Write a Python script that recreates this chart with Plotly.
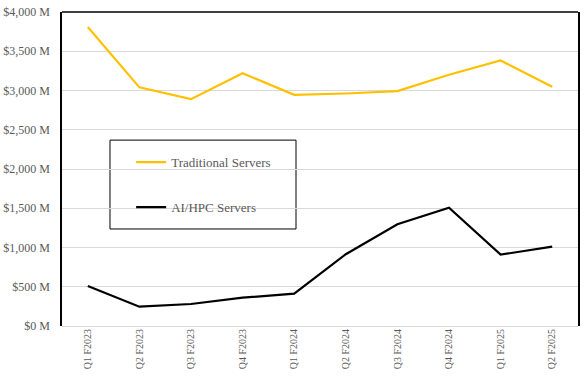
import plotly.graph_objects as go

quarters = ["Q1 F2023", "Q2 F2023", "Q3 F2023", "Q4 F2023", "Q1 F2024",
            "Q2 F2024", "Q3 F2024", "Q4 F2024", "Q1 F2025", "Q2 F2025"]
traditional = [3810, 3040, 2890, 3220, 2945, 2962, 2993, 3200, 3383, 3047]
ai_hpc = [510, 246, 280, 361, 412, 914, 1297, 1508, 909, 1011]
y_ticks = [0, 500, 1000, 1500, 2000, 2500, 3000, 3500, 4000]
y_tick_labels = ["$0 M", "$500 M", "$1,000 M", "$1,500 M", "$2,000 M",
                 "$2,500 M", "$3,000 M", "$3,500 M", "$4,000 M"]

FONT = "Liberation Serif"
GRAY = "#595959"

fig = go.Figure()
fig.add_trace(go.Scatter(x=quarters, y=traditional, mode="lines",
                         name="Traditional Servers", legendgroup="a",
                         line=dict(color="#FFC000", width=2.2)))
fig.add_trace(go.Scatter(x=quarters, y=ai_hpc, mode="lines",
                         name="AI/HPC Servers", legendgroup="b",
                         line=dict(color="#000000", width=2.2)))

# legend box
fig.add_shape(type="rect", xref="paper", yref="paper",
              x0=0.093, x1=0.4535, y0=0.309, y1=0.592,
              line=dict(color="black", width=1), fillcolor="white", layer="below")
# top border
fig.add_shape(type="line", xref="paper", yref="paper",
              x0=0, x1=1, y0=1, y1=1, line=dict(color="black", width=1.5))

fig.update_layout(
    width=586, height=380,
    margin=dict(l=62, r=8, t=12, b=54),
    paper_bgcolor="white", plot_bgcolor="white",
    font=dict(family=FONT, color=GRAY, size=12),
    showlegend=True,
    legend=dict(x=0.134, y=0.45, xanchor="left", yanchor="middle",
                bgcolor="rgba(0,0,0,0)", borderwidth=0,
                traceorder="grouped", tracegroupgap=25,
                itemwidth=30, font=dict(family=FONT, size=13, color=GRAY)),
    xaxis=dict(showgrid=False, showline=False, ticks="", tickangle=-90,
               range=[-0.5, 9.5], automargin=False,
               tickfont=dict(family=FONT, size=10, color=GRAY)),
    yaxis=dict(range=[0, 4000], tickvals=y_ticks, ticktext=y_tick_labels,
               showgrid=True, gridcolor="#D9D9D9", gridwidth=1,
               zeroline=True, zerolinecolor="#D9D9D9", zerolinewidth=1,
               showline=True, mirror=True, linecolor="black", linewidth=1.5,
               ticks="", ticklabelstandoff=8, automargin=False,
               tickfont=dict(family=FONT, size=12, color=GRAY)),
)

fig.write_html("out.html", config={"displayModeBar": False},
               post_script="document.body.style.margin='0';document.body.style.overflow='hidden';")
